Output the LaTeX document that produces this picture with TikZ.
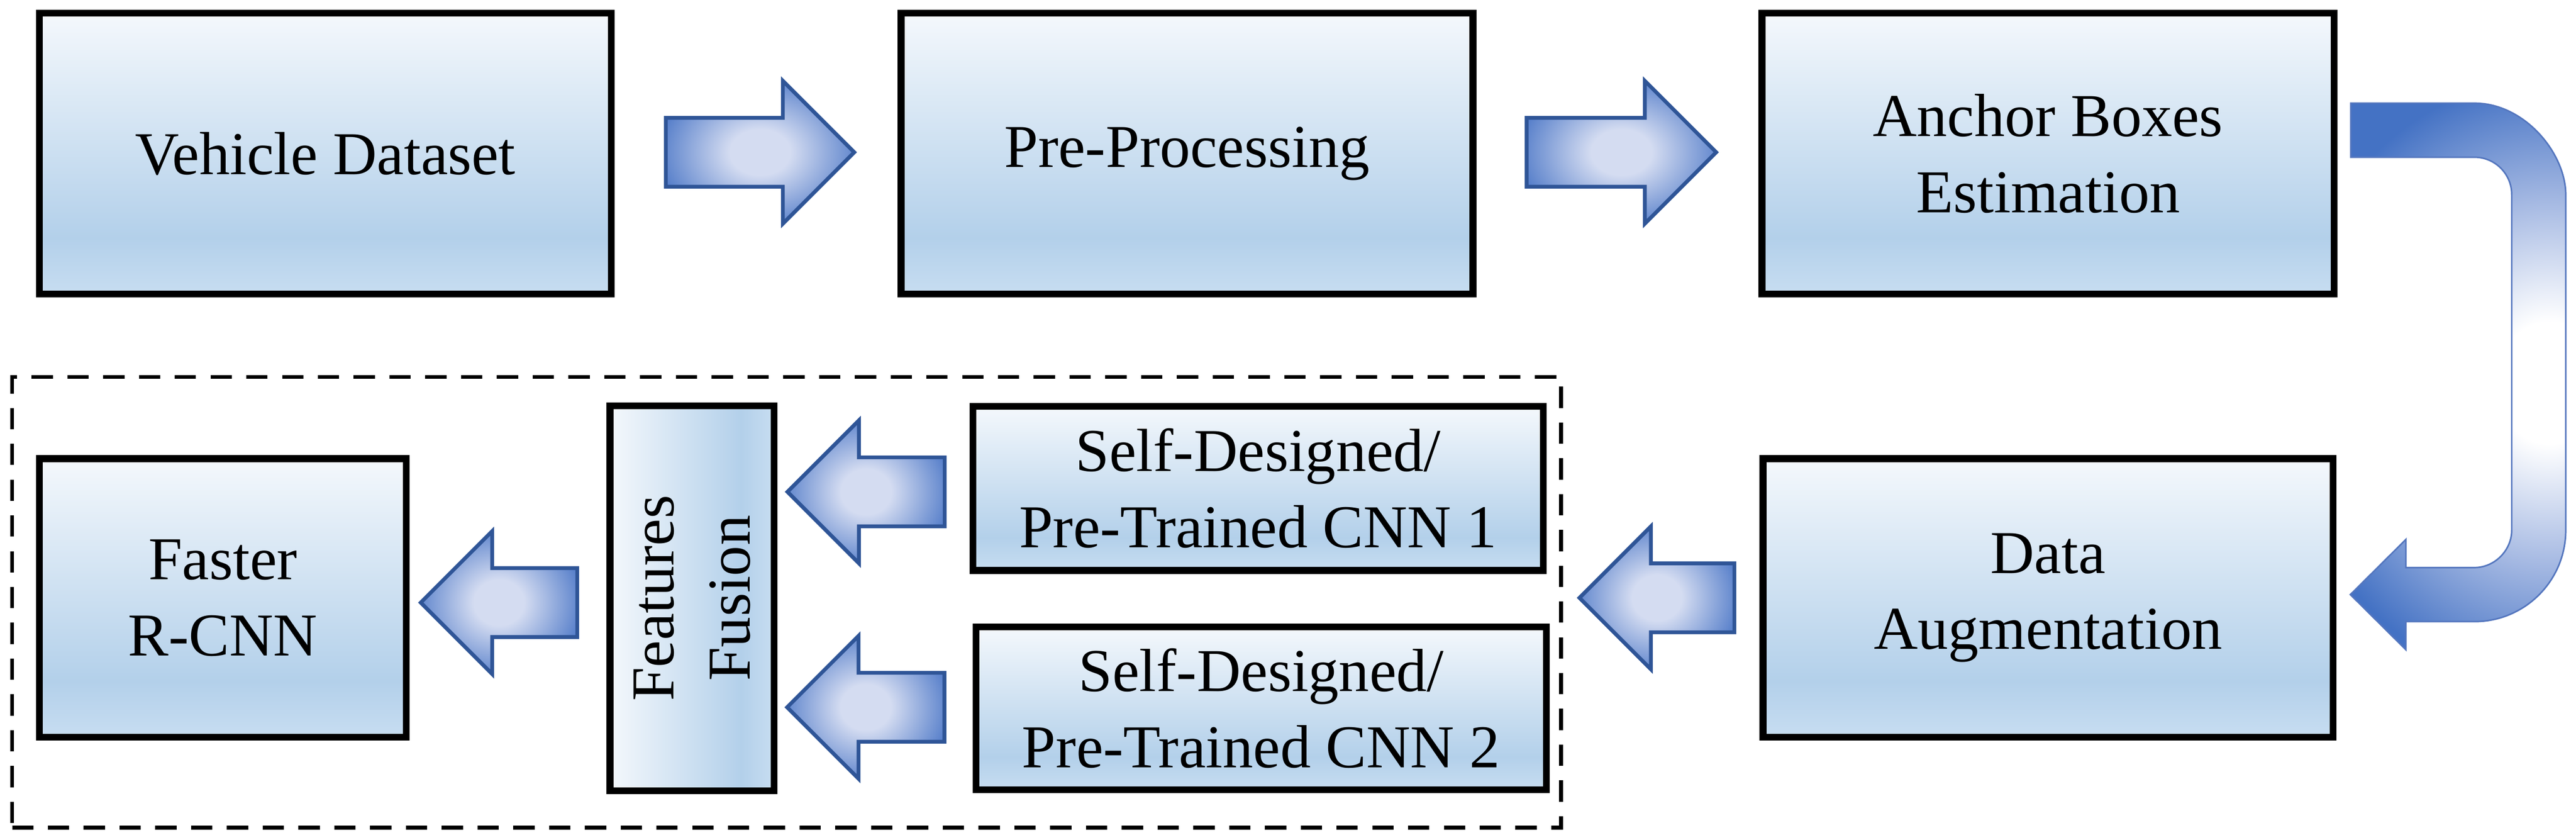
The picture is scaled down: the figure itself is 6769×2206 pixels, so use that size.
\documentclass[tikz,border=0pt]{standalone}
\usepackage{fontspec}
\setmainfont{Liberation Serif}
\usetikzlibrary{shapes.arrows,calc}
\definecolor{bxtop}{RGB}{244,248,252}
\definecolor{bxdark}{RGB}{179,208,234}
\definecolor{bxbot}{RGB}{199,221,241}
\definecolor{arin}{RGB}{212,220,241}
\definecolor{arout}{RGB}{80,122,200}
\definecolor{arline}{RGB}{47,85,151}
\definecolor{cvdark}{RGB}{68,114,196}
\definecolor{cvmid}{RGB}{164,184,226}
\definecolor{cvline}{RGB}{84,118,190}
\pgfdeclareverticalshading{boxsh}{100bp}{color(0bp)=(bxbot); color(25bp)=(bxbot); color(35bp)=(bxdark); color(75bp)=(bxtop); color(100bp)=(bxtop)}
\pgfdeclarehorizontalshading{fussh}{100bp}{color(0bp)=(bxtop); color(25bp)=(bxtop); color(65bp)=(bxdark); color(75bp)=(bxbot); color(100bp)=(bxbot)}
\pgfdeclareradialshading{arrsh}{\pgfpoint{0bp}{0bp}}{color(0bp)=(arin); color(8bp)=(arin); color(28bp)=(arout); color(50bp)=(arout)}
\pgfdeclareradialshading{curvesh}{\pgfpoint{0bp}{0bp}}{color(0bp)=(white); color(5bp)=(white); color(15bp)=(cvmid); color(25bp)=(cvdark); color(50bp)=(cvdark)}
\tikzset{
  blk/.style={draw=black, line width=0.18cm, shade, shading=boxsh, inner sep=0pt,
    align=center, font=\fontsize{45.5}{56.9}\selectfont},
  barrow/.style={single arrow, draw=arline, line width=0.1cm, shade, shading=arrsh,
    inner xsep=0pt, inner ysep=0.855cm, minimum width=3.66cm, single arrow head extend=0.97cm,
    anchor=tail},
  larrow/.style={barrow, shape border rotate=180},
  grpbox/.style={draw=black, line width=0.1cm, dash pattern=on 0.56cm off 0.38cm, inner sep=0pt},
}
\begin{document}
\begin{tikzpicture}[x=0.01cm,y=0.01cm]
\useasboundingbox (0,0) rectangle (6769,2206);
% top row
\node[blk, minimum width=15.02cm, minimum height=7.37cm] (vd) at (855,1802.5) {Vehicle Dataset};
\node[blk, minimum width=15.02cm, minimum height=7.37cm] (pp) at (3119,1802.5) {Pre-Processing};
\node[blk, minimum width=15.02cm, minimum height=7.37cm] (ab) at (5381.5,1802.5) {Anchor Boxes\\Estimation};
% bottom row
\node[grpbox, minimum width=40.68cm, minimum height=11.83cm] (grp) at (2067,623.5) {};
\node[blk, minimum width=9.63cm, minimum height=7.31cm] (fr) at (585.5,635.5) {Faster\\R-CNN};
\node[blk, shading=fussh, rotate=90, minimum width=10.11cm, minimum height=4.31cm] (fus) at (1818.5,634.5) {Features\\Fusion};
\node[blk, minimum width=14.97cm, minimum height=4.31cm] (c1) at (3306,923) {Self-Designed/\\Pre-Trained CNN 1};
\node[blk, minimum width=14.97cm, minimum height=4.27cm] (c2) at (3314,345) {Self-Designed/\\Pre-Trained CNN 2};
\node[blk, minimum width=14.97cm, minimum height=7.31cm] (da) at (5381.5,635.5) {Data\\Augmentation};
% block arrows (placed by their tails)
\node[barrow, minimum height=4.95cm] (a1) at ($(vd.east)+(129,3.5)$) {};
\node[barrow, minimum height=4.98cm] (a2) at ($(pp.east)+(127,3.5)$) {};
\node[larrow, minimum height=4.07cm] (a3) at ($(da.west)+(-61,0)$) {};
\node[larrow, minimum height=4.13cm] (a4) at ($(c1.west)+(-60.5,-9)$) {};
\node[larrow, minimum height=4.13cm] (a5) at ($(c2.west)+(-69.5,3)$) {};
\node[larrow, minimum height=4.11cm] (a6) at ($(fus.north)+(-72,-11.5)$) {};
% curved arrow from Anchor Boxes to Data Augmentation
\def\curvepath{(6177,1935) -- (6502,1935) .. controls (6634.5,1935) and (6742,1802.5) .. (6742,1695)
  -- (6742,813) .. controls (6742,680.5) and (6634.5,573) .. (6502,573)
  -- (6322,573) -- (6322,499) -- (6176,644) -- (6322,789) -- (6322,715)
  -- (6502,715) .. controls (6556,715) and (6600,761) .. (6600,813)
  -- (6600,1695) .. controls (6600,1749) and (6556,1793) .. (6502,1793)
  -- (6177,1793) -- cycle}
\begin{scope}
  \clip \curvepath;
  \fill[cvdark] (6100,400) rectangle (6800,2000);
  \shade[shading=curvesh] (6700,1200) ellipse [x radius=7cm, y radius=8cm];
\end{scope}
\draw[cvline, line width=0.04cm] \curvepath;
\end{tikzpicture}
\end{document}
